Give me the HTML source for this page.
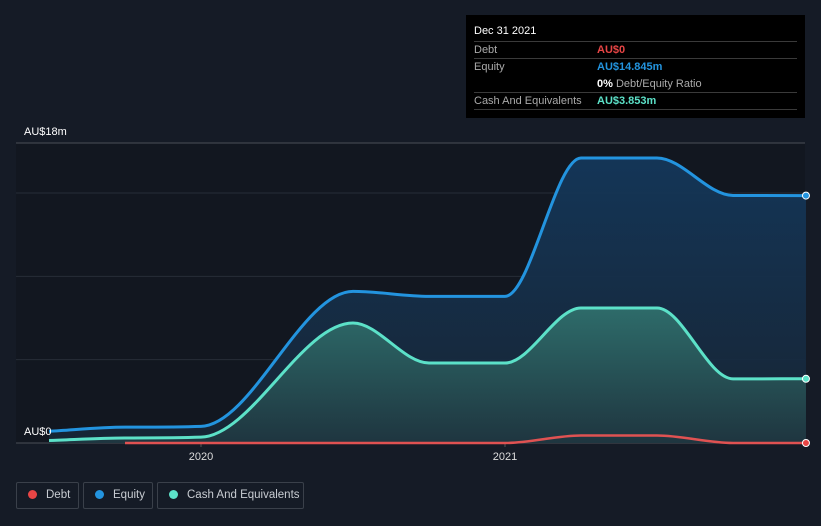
<!DOCTYPE html>
<html><head><meta charset="utf-8"><style>
body{margin:0;background:#151b26;font-family:"Liberation Sans",sans-serif;}
#wrap{position:relative;width:821px;height:526px;overflow:hidden;background:#151b26;}
svg{position:absolute;left:0;top:0;}
.tip{position:absolute;left:466px;top:15px;width:339px;height:103px;background:#000;color:#fff;font-size:11px;}
.row{position:absolute;left:8px;right:8px;border-top:1px solid #3a3a3a;height:17px;}
.lg{position:absolute;top:482px;height:27px;border:1px solid #3a404a;border-radius:2px;color:#c8ccd2;font-size:11.5px;line-height:25px;box-sizing:border-box;white-space:nowrap;}
.dot{display:inline-block;width:9px;height:9px;border-radius:50%;margin:0 9px 0 11px;vertical-align:-1px;}
</style></head><body>
<div id="wrap">
<svg id="svg" width="821" height="526"></svg>
<div class="tip">
 <div style="position:absolute;left:8px;top:10px;font-size:11px">Dec 31 2021</div>
 <div class="row" style="top:26px"><span style="color:#aaa;position:absolute;top:2px">Debt</span><span style="color:#e84545;position:absolute;left:123px;top:2px;font-weight:bold">AU$0</span></div>
 <div class="row" style="top:43px"><span style="color:#aaa;position:absolute;top:2px">Equity</span><span style="color:#2394df;position:absolute;left:123px;top:2px;font-weight:bold">AU$14.845m</span></div>
 <div style="position:absolute;left:131px;top:63px;color:#aaa"><b style="color:#fff">0%</b> Debt/Equity Ratio</div>
 <div class="row" style="top:77px"><span style="color:#aaa;position:absolute;top:2px">Cash And Equivalents</span><span style="color:#5ce1c8;position:absolute;left:123px;top:2px;font-weight:bold">AU$3.853m</span></div>
 <div class="row" style="top:94px;height:0"></div>
</div>
<div class="lg" style="left:16px;width:63px"><span class="dot" style="background:#e84545"></span>Debt</div>
<div class="lg" style="left:83px;width:70px"><span class="dot" style="background:#2394df"></span>Equity</div>
<div class="lg" style="left:157px;width:147px"><span class="dot" style="background:#5ce1c8"></span>Cash And Equivalents</div>
</div>
<script>
const dates=[2019.5,2019.75,2020.0,2020.5,2020.75,2021.0,2021.25,2021.5,2021.75,2021.99];
const equity=[0.7,0.95,1.0,9.1,8.8,8.8,17.1,17.1,14.85,14.845];
const cash=[0.15,0.3,0.35,7.2,4.8,4.8,8.1,8.1,3.85,3.853];
const debtDates=[2019.75,2020.0,2020.5,2021.0,2021.25,2021.5,2021.75,2021.99];
const debt=[0,0,0,0,0.45,0.45,0,0];
const yTicks=[0,5,10,15,18];
const xTicks=[2020,2021];
const NS="http://www.w3.org/2000/svg";
const svg=document.getElementById('svg');
const X=t=>201+(t-2020)*304;
const Y=v=>443-v*300/18;
function mk(tag,attrs,name){const e=document.createElementNS(NS,tag);for(const k in attrs)e.setAttribute(k,attrs[k]);


svg.appendChild(e);return e;}
const defs=document.createElementNS(NS,'defs');
defs.innerHTML='<linearGradient id="ge" x1="0" y1="0" x2="0" y2="1"><stop offset="0" stop-color="#14375a" stop-opacity="0.95"/><stop offset="1" stop-color="#172636" stop-opacity="0.9"/></linearGradient><linearGradient id="gc" x1="0" y1="0" x2="0" y2="1"><stop offset="0" stop-color="#2f6f6c" stop-opacity="0.95"/><stop offset="1" stop-color="#1f3640" stop-opacity="0.95"/></linearGradient>';
svg.appendChild(defs);
mk('rect',{x:16,y:143,width:789,height:300,fill:'#121720'},'plot-bg');
yTicks.forEach(v=>{mk('line',{x1:16,x2:805,y1:Y(v),y2:Y(v),stroke:v==18||v==0?'#4a4f57':'#272d37','stroke-width':1},'gridline-'+v);});
const l18=mk('text',{x:24,y:135,fill:'#fff','font-size':11},'y-label-max');l18.textContent='AU$18m';
xTicks.forEach(t=>{mk('line',{x1:X(t),x2:X(t),y1:443,y2:447,stroke:'#555'},'x-tick-'+t);
const tx=mk('text',{x:X(t),y:460,fill:'#ddd','font-size':11,'text-anchor':'middle'},'x-label-'+t);tx.textContent=t;});
function pts(xs,ys){return xs.map((t,i)=>[X(t),Y(ys[i])]);}
function mono(p){const n=p.length,d=[],m=[];for(let i=0;i<n-1;i++)d.push((p[i+1][1]-p[i][1])/(p[i+1][0]-p[i][0]));
m[0]=d[0];m[n-1]=d[n-2];for(let i=1;i<n-1;i++)m[i]=d[i-1]*d[i]<=0?0:(d[i-1]+d[i])/2;
for(let i=0;i<n-1;i++){if(d[i]==0){m[i]=0;m[i+1]=0;continue;}const a=m[i]/d[i],b=m[i+1]/d[i],s=a*a+b*b;if(s>9){const tt=3/Math.sqrt(s);m[i]=tt*a*d[i];m[i+1]=tt*b*d[i];}}
let s='M'+p[0][0]+','+p[0][1];for(let i=0;i<n-1;i++){const h=(p[i+1][0]-p[i][0])/3;s+=`C${p[i][0]+h},${p[i][1]+m[i]*h} ${p[i+1][0]-h},${p[i+1][1]-m[i+1]*h} ${p[i+1][0]},${p[i+1][1]}`;}return s;}
const pe=pts(dates,equity),pc=pts(dates,cash),pd=pts(debtDates,debt);
const le=mono(pe),lc=mono(pc),ld=mono(pd);
const x0=X(dates[0]),x1=X(dates[dates.length-1]);
mk('path',{d:le+`L${x1},443L${x0},443Z`,fill:'url(#ge)'},'equity-area');
mk('path',{d:lc+`L${x1},443L${x0},443Z`,fill:'url(#gc)'},'cash-area');
mk('path',{d:le,fill:'none',stroke:'#2394df','stroke-width':3},'equity-line');
mk('path',{d:lc,fill:'none',stroke:'#5ce1c8','stroke-width':3},'cash-line');
mk('path',{d:ld,fill:'none',stroke:'#e05252','stroke-width':2.5},'debt-line');
const l0=mk('text',{x:24,y:435,fill:'#fff','font-size':11},'y-label-zero');l0.textContent='AU$0';
[[pe,'#2394df','equity-end-dot'],[pc,'#5ce1c8','cash-end-dot'],[pd,'#e84545','debt-end-dot']].forEach(([p,c,n])=>{const q=p[p.length-1];mk('circle',{cx:q[0],cy:q[1],r:3.5,fill:c,stroke:'#fff','stroke-width':1},n);});
</script>
</body></html>
